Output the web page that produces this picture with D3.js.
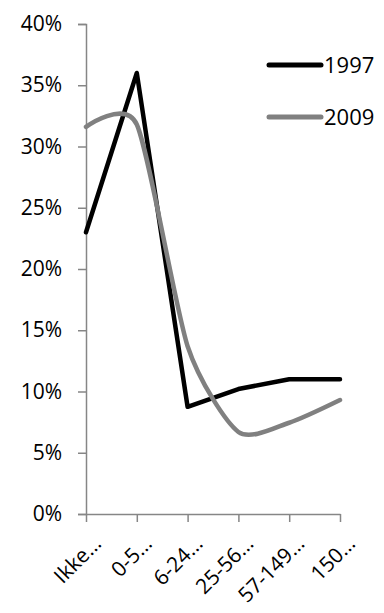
<!DOCTYPE html>
<html><head><meta charset="utf-8">
<script src="https://cdn.jsdelivr.net/npm/d3@7"></script>
<style>body{margin:0;background:#fff}svg{display:block}</style>
</head><body>
<script>
const categories = ["Ikke…", "0-5…", "6-24…", "25-56…", "57-149…", "150…"];
const series1997 = [0.23, 0.36, 0.0875, 0.102, 0.11, 0.11];
const series2009 = [0.316, 0.318, 0.137, 0.067, 0.0745, 0.093];
const seriesNames = ["1997", "2009"];
const yTicks = [0, 0.05, 0.1, 0.15, 0.2, 0.25, 0.3, 0.35, 0.4];

const W = 384, H = 613;
const svg = d3.select("body").append("svg").attr("width", W).attr("height", H);
const font = "'Open Sans', 'Liberation Sans', sans-serif";
const axisColor = "#868686";

const x = d3.scalePoint().domain(categories).range([86, 340]);
const y = d3.scaleLinear().domain([0, 0.4]).range([514, 24]);

// Y axis
const yAxis = svg.append("g").attr("transform", "translate(86,0)")
  .call(d3.axisLeft(y).tickValues(yTicks).tickSize(8).tickPadding(16).tickFormat(d3.format(".0%")));
yAxis.select(".domain").attr("stroke", axisColor).attr("stroke-width", 1.5);
yAxis.selectAll(".tick line").attr("stroke", axisColor).attr("stroke-width", 1.5);
yAxis.selectAll(".tick text").attr("font-family", font).attr("font-size", 21).attr("fill", "#000");

// X axis
const xAxis = svg.append("g").attr("transform", "translate(0,514)")
  .call(d3.axisBottom(x).tickSize(8).tickSizeOuter(0).tickPadding(0));
xAxis.select(".domain").attr("stroke", axisColor).attr("stroke-width", 1.5);
xAxis.selectAll(".tick line").attr("stroke", axisColor).attr("stroke-width", 1.5);
xAxis.selectAll(".tick text")
  .attr("font-family", font).attr("font-size", 21).attr("fill", "#000")
  .attr("text-anchor", "end").attr("y", 0).attr("dy", 0)
  .attr("transform", "translate(16,31) rotate(-45)");

// Lines
const line1997 = d3.line().x((d, i) => x(categories[i])).y(d => y(d));
const line2009 = d3.line().x((d, i) => x(categories[i])).y(d => y(d)).curve(d3.curveCardinal.tension(0.3));

svg.append("path").datum(series1997).attr("d", line1997)
  .attr("fill", "none").attr("stroke", "#000").attr("stroke-width", 4.5)
  .attr("stroke-linejoin", "round").attr("stroke-linecap", "round");
svg.append("path").datum(series2009).attr("d", line2009)
  .attr("fill", "none").attr("stroke", "#808080").attr("stroke-width", 4.5)
  .attr("stroke-linejoin", "round").attr("stroke-linecap", "round");

// Legend
const legend = [
  {name: seriesNames[0], color: "#000", y: 65},
  {name: seriesNames[1], color: "#808080", y: 117}
];
const lg = svg.append("g");
legend.forEach(l => {
  lg.append("line").attr("x1", 269).attr("x2", 321).attr("y1", l.y).attr("y2", l.y)
    .attr("stroke", l.color).attr("stroke-width", 5).attr("stroke-linecap", "round");
  lg.append("text").attr("x", 324).attr("y", l.y).attr("dy", "0.36em")
    .attr("font-family", font).attr("font-size", 22).attr("fill", "#000").text(l.name);
});
</script>
</body></html>
